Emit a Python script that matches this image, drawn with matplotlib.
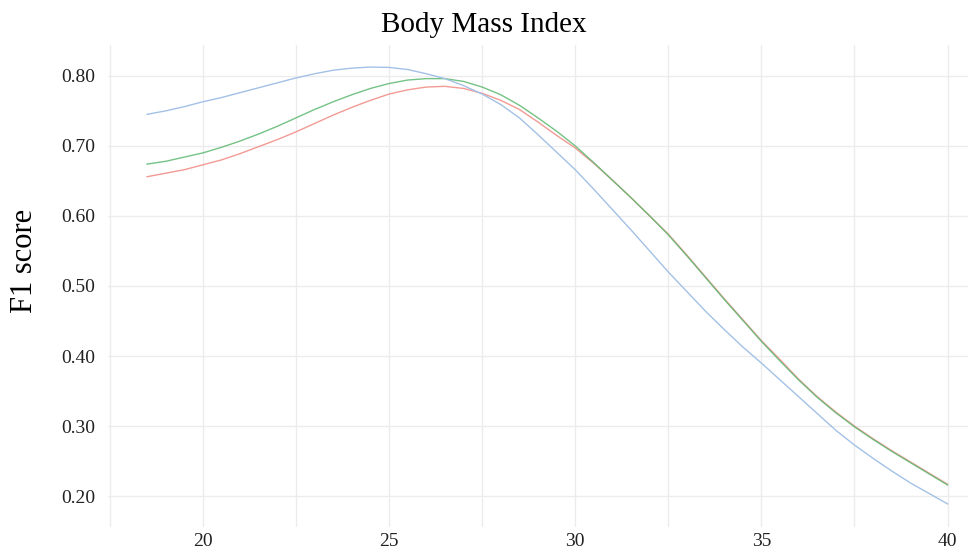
import matplotlib
matplotlib.use("Agg")
import matplotlib.pyplot as plt

# donnees
bmi = [18.5, 19.0, 19.5, 20.0, 20.5, 21.0, 21.5, 22.0, 22.5, 23.0, 23.5,
       24.0, 24.5, 25.0, 25.5, 26.0, 26.5, 27.0, 27.5, 28.0, 28.5, 29.0,
       29.5, 30.0, 30.5, 31.0, 31.5, 32.0, 32.5, 33.0, 33.5, 34.0, 34.5,
       35.0, 35.5, 36.0, 36.5, 37.0, 37.5, 38.0, 38.5, 39.0, 39.5, 40.0]

f1_red = [0.656, 0.661, 0.666, 0.673, 0.680, 0.689, 0.699, 0.709, 0.720, 0.732, 0.744,
          0.755, 0.765, 0.774, 0.780, 0.784, 0.785, 0.782, 0.775, 0.765, 0.752, 0.734,
          0.715, 0.697, 0.675, 0.651, 0.626, 0.600, 0.574, 0.544, 0.513, 0.482, 0.452,
          0.422, 0.395, 0.367, 0.342, 0.320, 0.300, 0.282, 0.265, 0.249, 0.233, 0.217]

f1_green = [0.674, 0.678, 0.684, 0.690, 0.698, 0.707, 0.717, 0.728, 0.740, 0.752, 0.763,
            0.773, 0.782, 0.789, 0.794, 0.796, 0.796, 0.792, 0.784, 0.773, 0.758, 0.740,
            0.721, 0.700, 0.676, 0.651, 0.626, 0.600, 0.573, 0.543, 0.512, 0.481, 0.451,
            0.421, 0.393, 0.366, 0.341, 0.319, 0.299, 0.281, 0.264, 0.248, 0.232, 0.216]

f1_blue = [0.745, 0.750, 0.756, 0.763, 0.769, 0.776, 0.783, 0.790, 0.797, 0.803, 0.808,
           0.811, 0.8125, 0.812, 0.809, 0.803, 0.796, 0.786, 0.774, 0.759, 0.740, 0.716,
           0.691, 0.666, 0.638, 0.609, 0.580, 0.550, 0.520, 0.492, 0.464, 0.438, 0.413,
           0.390, 0.366, 0.342, 0.318, 0.294, 0.273, 0.254, 0.236, 0.219, 0.204, 0.189]

x_ticks = [20, 25, 30, 35, 40]
y_ticks = [0.2, 0.3, 0.4, 0.5, 0.6, 0.7, 0.8]

plt.rcParams['font.family'] = ['Liberation Serif', 'DejaVu Serif']

fig = plt.figure(figsize=(9.68, 5.55), dpi=100)
ax = fig.add_axes([108 / 968, 28 / 555, 860 / 968, 482 / 555])

# grille style ggplot minimal
for xv in [17.5, 20, 22.5, 25, 27.5, 30, 32.5, 35, 37.5, 40]:
    ax.axvline(xv, color='#ececec', lw=1.0, zorder=0)
for yv in y_ticks:
    ax.axhline(yv, color='#ececec', lw=1.0, zorder=0)

ax.plot(bmi, f1_red, color='#f29a94', lw=1.0)
ax.plot(bmi, f1_green, color='#5cb870', alpha=0.85, lw=1.0)
ax.plot(bmi, f1_blue, color='#a3c1e6', lw=1.0)

ax.set_xlim(17.45, 40.55)
ax.set_ylim(0.156, 0.844)
ax.set_xticks(x_ticks)
ax.set_xticklabels([str(v) for v in x_ticks])
ax.set_yticks(y_ticks)
ax.set_yticklabels([f"{v:.2f}" for v in y_ticks])
ax.tick_params(length=0, labelsize=14, colors='#222222')
ax.tick_params(axis='y', pad=9)
ax.tick_params(axis='x', pad=4)
for s in ax.spines.values():
    s.set_visible(False)

fig.text(0.5, 1 - 32 / 555, "Body Mass Index", ha='center', va='baseline', fontsize=21)
fig.text(25 / 968, 1 - 261 / 555, "F1 score", ha='center', va='center',
         rotation=90, fontsize=22)

fig.savefig("out.png", dpi=100)
